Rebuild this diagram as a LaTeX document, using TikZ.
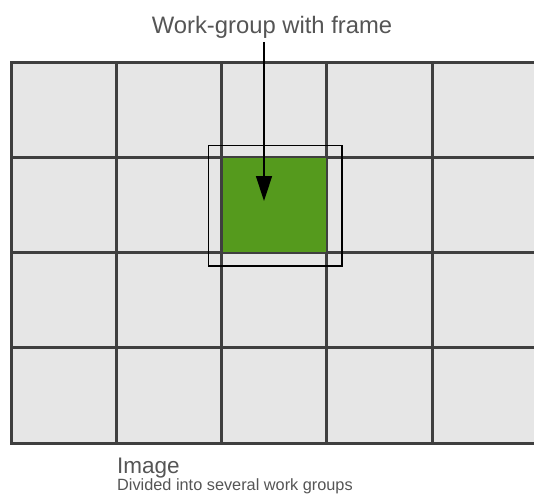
\documentclass[tikz,border=0pt]{standalone}
\usepackage{fontspec}
\setmainfont{Liberation Sans}
\usetikzlibrary{arrows.meta}
\definecolor{cellfill}{HTML}{E6E6E6}
\definecolor{gridline}{HTML}{3F3F3F}
\definecolor{wggreen}{HTML}{559A1D}
\definecolor{txtgray}{HTML}{555555}
\tikzset{
  cell/.style={draw=gridline, fill=cellfill, line width=3pt, minimum width=105.25pt, minimum height=95.25pt, inner sep=0pt, outer sep=0pt, anchor=north west},
  wgcell/.style={cell, fill=wggreen, line width=2pt},
  wgframe/.style={draw=black, line width=1.5pt},
  title/.style={text=txtgray, font=\fontsize{23.8}{28}\selectfont, inner sep=0pt, anchor=base},
  caption/.style={text=txtgray, inner sep=0pt, anchor=base west},
  pointer/.style={draw=black, line width=1.5pt, -{Triangle[length=25pt,width=16pt]}}
}
\begin{document}
\begin{tikzpicture}[x=1pt,y=-1pt]
\useasboundingbox (0,0) rectangle (534,495);
\begin{scope}
\clip (0,0) rectangle (534,495);
\foreach \i in {0,...,4}{
  \foreach \j in {0,...,3}{
    \node[cell] (c-\i-\j) at ({11+105.25*\i},{62+95.25*\j}) {};
  }
}
\end{scope}
\node[wgcell] (wg) at (221.5,157.25) {};
\draw[wgframe] (208.5,145.5) rectangle (342,266);
\node[title] (t) at (272,34) {Work-group with frame};
\coordinate (ptip) at (264,201);
\coordinate (pstart) at (264,42);
\draw[pointer] (pstart) -- (ptip);
\node[caption, font=\fontsize{22.5}{27}\selectfont] (img) at (117,473.5) {Image};
\node[caption, font=\fontsize{16.3}{19}\selectfont] (sub) at (117,490.5) {Divided into several work groups};
\end{tikzpicture}
\end{document}
